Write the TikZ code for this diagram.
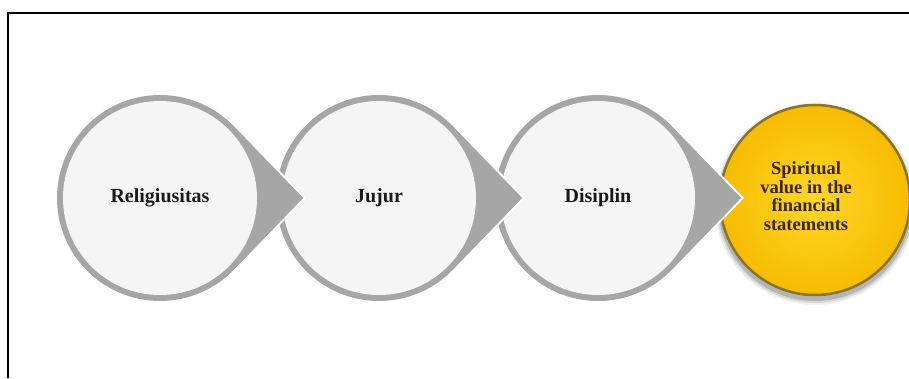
\documentclass[tikz,border=0pt]{standalone}
\usepackage{fontspec}
\setmainfont{Liberation Serif}
\usepackage{tikz}
\usetikzlibrary{calc,positioning}
\definecolor{ringgray}{RGB}{166,166,166}
\definecolor{discfill}{RGB}{245,245,245}
\definecolor{goldin}{RGB}{255,214,40}
\definecolor{goldout}{RGB}{246,188,0}
\definecolor{goldrim}{RGB}{120,104,45}
\definecolor{labelbrown}{RGB}{55,38,0}
\tikzset{
  steplabel/.style={font=\bfseries\fontsize{20}{20}\selectfont,text=black!90,align=center},
  goallabel/.style={font=\bfseries\fontsize{18.5}{18.5}\selectfont,text=labelbrown,align=center}
}

\begin{document}
\begin{tikzpicture}[x=1pt,y=1pt]
  \useasboundingbox (0,0) rectangle (909,378);
  \draw[line width=1.5pt] (8,0) -- (8,365) -- (909,365);
  % gold disc with soft shadow
  \coordinate (goal) at (815,178);
  \foreach \r/\o in {101/0.06,99/0.1,97/0.16}{
    \fill[black,opacity=\o] ($(goal)+(0,-4)$) circle (\r);
  }
  \shade[inner color=goldin,outer color=goldout] (goal) circle (96);
  \draw[goldrim,line width=2.5pt,opacity=0.85] (goal) circle (95);
  \node[goallabel] (spirit) at (806,182) {Spiritual\\value in the\\financial\\statements};
  % grey steps, drawn right to left so each tip lies over the next disc
  \pgfmathsetmacro\tang{acos(100/139)}
  \foreach \cx/\name/\txt in {598/disiplin/Disiplin,379/jujur/Jujur,160/religi/Religiusitas}{
    \coordinate (c\name) at (\cx,180);
    \draw[white,fill=white,line width=10pt]
      ($(c\name)+(139,0)$) -- ($(c\name)+(\tang:100)$)
      arc[start angle=\tang,end angle=360-\tang,radius=100] -- cycle;
    \filldraw[ringgray,line width=6pt]
      ($(c\name)+(139,0)$) -- ($(c\name)+(\tang:100)$)
      arc[start angle=\tang,end angle=360-\tang,radius=100] -- cycle;
    \fill[discfill] (c\name) circle (97);
    \node[steplabel] (\name) at (c\name) {\txt};
  }
\end{tikzpicture}
\end{document}
